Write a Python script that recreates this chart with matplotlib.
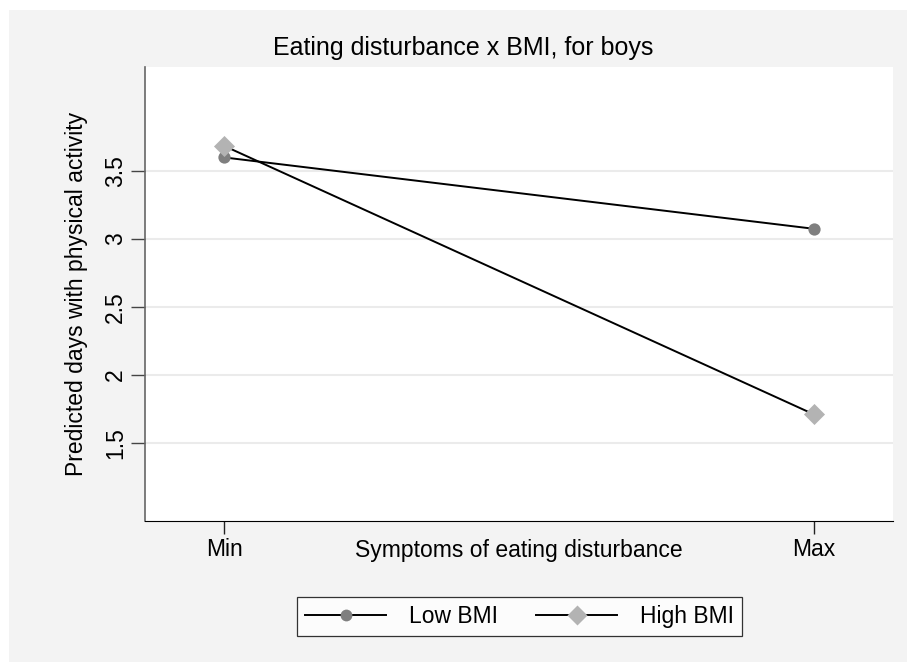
import matplotlib
matplotlib.use('Agg')
from matplotlib import pyplot as plt
from matplotlib.patches import Rectangle

# values
niveis = ['Min', 'Max']
low_bmi = [3.60, 3.075]
high_bmi = [3.685, 1.71]
yticks = [1.5, 2, 2.5, 3, 3.5]

plt.rcParams['font.family'] = ['Liberation Sans', 'DejaVu Sans']

W, H = 907, 662
fig = plt.figure(figsize=(W / 100, H / 100), dpi=100)
fig.patch.set_facecolor('white')
# painel cinza atrás de tudo
fig.patches.append(Rectangle((9 / W, 0), 1 - 9 / W, 1 - 10 / H, transform=fig.transFigure,
                             facecolor='#f3f3f3', edgecolor='none', zorder=-10))

ax = fig.add_axes([145 / W, 1 - 521 / H, (893 - 145) / W, (521 - 67) / H])
ax.set_facecolor('white')

x = list(range(len(niveis)))
ax.plot(x, low_bmi, color='black', lw=1.4, zorder=2)
ax.plot(x, high_bmi, color='black', lw=1.4, zorder=2)
ax.scatter(x, low_bmi, marker='o', s=78, color='#7f7f7f', zorder=3, linewidths=0)
ax.scatter(x, high_bmi, marker='D', s=115, color='#b3b3b3', zorder=3, linewidths=0)

ax.set_xlim(-0.134, 1.134)
ax.set_ylim(0.926, 4.265)
ax.set_xticks(x)
ax.set_xticklabels(niveis, fontsize=16.5)
ax.set_yticks(yticks)
ax.set_yticklabels(['1.5', '2', '2.5', '3', '3.5'], fontsize=16.5, rotation=90, va='center')
ax.grid(axis='y', color='#ebebeb', lw=1.5)
ax.set_axisbelow(True)
ax.tick_params(axis='x', length=9, width=1, color='#222222', pad=3)
ax.tick_params(axis='y', length=10, width=1, color='#444444', pad=3)

for s in ['top', 'right']:
    ax.spines[s].set_visible(False)
ax.spines['left'].set_color('#666666')
ax.spines['left'].set_linewidth(1.2)
ax.spines['bottom'].set_color('black')

ax.set_xlabel('Symptoms of eating disturbance', fontsize=16.5)
ax.xaxis.set_label_coords(0.5, -(550 - 521) / (521 - 67), transform=ax.transAxes)
ax.xaxis.label.set_va('center')
ax.set_ylabel('Predicted days with physical activity', fontsize=16.5)
ax.yaxis.set_label_coords(-(145 - 77) / (893 - 145), 0.5, transform=ax.transAxes)
ax.yaxis.label.set_va('center')

fig.text(463 / W, 1 - 48 / H, 'Eating disturbance x BMI, for boys', fontsize=18,
         ha='center', va='center')

h1, = ax.plot([], [], color='black', lw=1.4, marker='o', ms=8.5, mfc='#7f7f7f', mec='none')
h2, = ax.plot([], [], color='black', lw=1.4, marker='D', ms=10, mfc='#b3b3b3', mec='none')
leg = fig.legend([h1, h2], ['Low BMI', 'High BMI'], loc='center', ncol=2,
                 bbox_to_anchor=(519.5 / W, 1 - 616.5 / H), fontsize=16.5, frameon=True,
                 fancybox=False, edgecolor='black', handlelength=3.5, columnspacing=1.7,
                 borderpad=0.35, handletextpad=1.0, borderaxespad=0)
leg.get_frame().set_linewidth(0.9)

fig.savefig('out.png', dpi=100)
